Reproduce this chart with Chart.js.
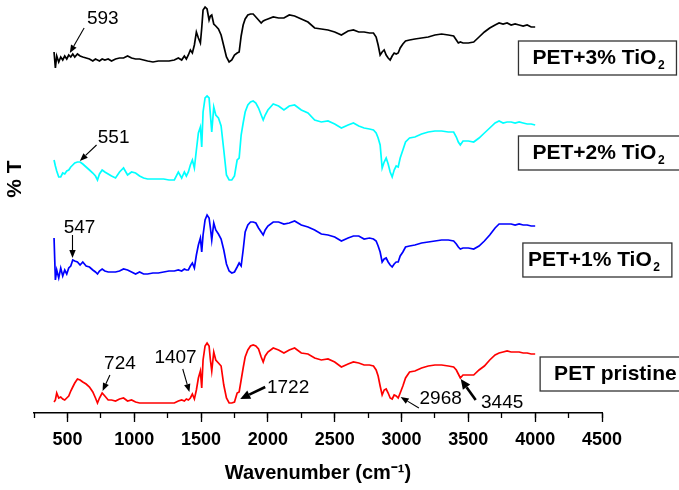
<!DOCTYPE html>
<html>
<head>
<meta charset="utf-8">
<script src="https://cdn.jsdelivr.net/npm/chart.js@4.4.1/dist/chart.umd.min.js"></script>
<style>
  body { margin: 0; background: #fff; }
  #wrap { width: 679px; height: 490px; }
</style>
</head>
<body>
<div id="wrap"><canvas id="ftir"></canvas></div>
<script>
// wavenumber grid (cm-1) shared by the four spectra
const wavenumbers = [400,410,420,435,450,465,480,495,510,525,540,555,
  575,595,615,640,665,690,710,725,740,760,780,805,830,860,890,920,950,980,1010,1040,1070,1100,1140,1180,1220,1260,1300,
  1330,1355,1375,1390,1405,1420,1435,1450,1465,1480,1495,1505,1515,1530,1545,1560,1570,1580,1595,1610,1630,1650,1670,1690,1710,1730,1750,1770,1785,1800,1815,1830,1850,1870,1890,1910,1930,1950,1965,1980,2000,
  2040,2080,2120,2160,2200,2250,2300,2350,2400,2450,2500,2550,2600,2640,2680,2720,2760,2790,
  2810,2825,2840,2855,2870,2885,2900,2915,2930,2945,2960,2975,2990,3010,3030,3060,3100,3150,3200,3250,3300,3350,3390,
  3410,3425,3440,3460,3500,3540,3580,3620,3660,3700,3730,3760,3790,3820,3850,3880,3910,3940,3970,4000];

// %T, stacked with offsets (arbitrary units)
const tio2_3 = [361,345,357,351,356,353,357,354,358,356,359,356,
  359,357,356,355,354,352,354,353,352,354,353,354,352,354,355,355,357,355,354,354,353,352,351,352,352,352,353,
  355,353,357,354,358,363,360,368,381,375,370,385,403,406,404,393,397,398,389,387,384,378,367,356,351,353,358,360,361,377,388,394,398,399,399,396,393,390,392,393,394,
  396,395,395,398,397,394,391,385,384,383,381,378,382,383,381,381,380,380,
  376,368,358,361,363,358,355,353,357,360,359,360,365,369,372,373,374,375,376,378,379,378,377,
  373,370,371,370,370,371,376,381,385,388,390,389,390,388,389,388,387,388,386,386];

const tio2_2 = [253,247,242,236,236,240,239,242,243,246,248,250,
  251,251,249,246,243,240,237,233,239,243,241,239,237,235,241,245,238,241,240,237,235,234,234,234,234,233,233,
  241,235,241,237,241,248,253,245,263,280,286,266,301,315,317,315,298,281,306,298,295,287,263,238,233,233,237,253,255,278,290,301,308,311,312,310,305,298,293,298,303,
  309,307,303,307,308,303,300,293,291,292,289,285,288,290,287,285,284,283,
  280,275,268,245,251,255,249,241,236,243,247,246,255,263,271,275,276,279,281,282,282,281,281,
  276,271,268,272,272,271,275,280,285,290,292,290,291,291,290,291,290,289,289,288];

const tio2_1 = [175,133,143,135,145,137,143,139,145,147,153,152,
  151,148,151,147,146,143,141,139,142,144,142,141,141,141,142,144,143,141,139,141,139,139,140,140,141,142,142,
  143,142,144,143,143,147,150,145,158,168,175,161,178,193,198,195,185,173,190,183,179,174,163,149,142,140,141,146,150,147,163,181,188,191,191,190,185,181,178,183,187,
  191,191,189,190,192,188,186,183,179,178,176,172,175,177,177,174,175,174,
  172,167,161,151,154,155,151,148,146,149,151,151,157,161,166,167,168,170,171,172,173,173,172,
  169,166,164,165,165,164,167,172,178,185,189,189,189,189,188,189,188,188,187,187];

const pristine = [11,13,20,15,16,14,13,15,17,22,26,30,
  34,33,31,29,26,21,15,10,15,20,17,13,13,12,14,15,12,13,11,10,10,10,10,10,10,10,10,
  12,13,12,14,13,15,19,14,23,35,42,25,53,67,70,67,53,42,61,53,50,47,28,15,10,10,11,20,21,33,45,56,63,67,68,67,64,56,51,57,61,
  65,63,60,63,65,60,59,55,53,54,51,46,49,51,50,48,48,47,
  43,37,27,18,23,24,20,15,14,18,17,15,20,27,35,41,42,45,47,48,48,47,46,
  43,39,35,38,38,38,43,47,53,58,60,61,62,61,61,61,60,60,59,59];

const seriesValues = [tio2_3, tio2_2, tio2_1, pristine];
const sampleNames = ["PET+3% TiO", "PET+2% TiO", "PET+1% TiO", "PET pristine"];
const sampleSubs = ["2", "2", "2", ""];
const lineColors = ["#000000", "#00ffff", "#0000ff", "#ff0000"];

// peak labels: text position, arrow start, arrow tip (wavenumber, %T)
const peakLabels = ["593", "551", "547", "724", "1407", "1722", "2968", "3445"];
const peakTextAt = [[765, 395.5], [846, 277], [591, 187], [893, 51], [1309, 57], [2151, 27], [3293, 15.5], [3753, 12]];
const arrowFrom = [[625, 385], [718, 268], [538, 178], [818, 38], [1363, 44], [1980, 26], [3130, 5], [3555, 13]];
const arrowTo = [[518, 360], [593, 252], [538, 155], [763, 22], [1413, 21], [1793, 14], [2993, 16], [3443, 34]];
const arrowBold = [false, false, false, false, false, true, false, true];

// sample name boxes: left edge (wavenumber), top (%T)
const boxLeft = [3875, 3875, 3908, 4037];
const boxTop = [372, 277, 170, 56];

const FONT = '"Liberation Sans", Arial, Helvetica, sans-serif';
Chart.defaults.font.family = FONT;
Chart.defaults.color = "#000";

const labelPlugin = {
  id: "ftirLabels",
  afterDraw(chart) {
    const { ctx, scales: { x, y }, chartArea } = chart;
    ctx.save();
    ctx.fillStyle = "#000";
    ctx.strokeStyle = "#000";

    // arrows + numbers
    peakLabels.forEach((txt, i) => {
      const x1 = x.getPixelForValue(arrowFrom[i][0]), y1 = y.getPixelForValue(arrowFrom[i][1]);
      const x2 = x.getPixelForValue(arrowTo[i][0]), y2 = y.getPixelForValue(arrowTo[i][1]);
      const a = Math.atan2(y2 - y1, x2 - x1);
      const hl = arrowBold[i] ? 10 : 8, hw = arrowBold[i] ? 4.5 : 3.2;
      ctx.lineWidth = arrowBold[i] ? 2.6 : 1.1;
      ctx.beginPath();
      ctx.moveTo(x1, y1);
      ctx.lineTo(x2 - hl * Math.cos(a), y2 - hl * Math.sin(a));
      ctx.stroke();
      ctx.beginPath();
      ctx.moveTo(x2, y2);
      ctx.lineTo(x2 - hl * Math.cos(a) + hw * Math.sin(a), y2 - hl * Math.sin(a) - hw * Math.cos(a));
      ctx.lineTo(x2 - hl * Math.cos(a) - hw * Math.sin(a), y2 - hl * Math.sin(a) + hw * Math.cos(a));
      ctx.closePath();
      ctx.fill();

      ctx.font = "19px " + FONT;
      ctx.textAlign = "center";
      ctx.textBaseline = "alphabetic";
      ctx.fillText(txt, x.getPixelForValue(peakTextAt[i][0]), y.getPixelForValue(peakTextAt[i][1]) + 6.8);
    });

    // sample boxes
    const boxW = [158, 168, 149, 150], pad = [14, 14, 5, 14];
    sampleNames.forEach((name, i) => {
      const bx = x.getPixelForValue(boxLeft[i]), by = y.getPixelForValue(boxTop[i]);
      ctx.fillStyle = "#fff";
      ctx.fillRect(bx, by, boxW[i], 34);
      ctx.strokeStyle = "#333";
      ctx.lineWidth = 1.3;
      ctx.strokeRect(bx, by, boxW[i], 34);
      ctx.fillStyle = "#000";
      ctx.font = "bold 21px " + FONT;
      ctx.textAlign = "left";
      ctx.fillText(name, bx + pad[i], by + 22.5);
      if (sampleSubs[i]) {
        const w = ctx.measureText(name).width;
        ctx.font = "bold 12px " + FONT;
        ctx.fillText(sampleSubs[i], bx + pad[i] + w + 1.5, by + 27.5);
      }
    });

    // y axis title
    ctx.font = "bold 21px " + FONT;
    ctx.textAlign = "center";
    ctx.textBaseline = "middle";
    ctx.translate(chartArea.left - 19, y.getPixelForValue(234));
    ctx.rotate(-Math.PI / 2);
    ctx.fillText("% T", 0, 0);
    ctx.restore();
  }
};

new Chart(document.getElementById("ftir"), {
  type: "line",
  data: {
    datasets: seriesValues.map((vals, i) => ({
      label: sampleNames[i] + sampleSubs[i],
      data: wavenumbers.map((w, k) => ({ x: w, y: vals[k] })),
      borderColor: lineColors[i],
      borderWidth: 1.7,
      pointRadius: 0,
      fill: false,
      tension: 0,
    })),
  },
  options: {
    responsive: true,
    maintainAspectRatio: false,
    animation: false,
    layout: { padding: { left: 34, right: 77, top: 0, bottom: 0 } },
    plugins: {
      legend: { display: false },
      tooltip: { enabled: false },
    },
    scales: {
      // minor ticks every 250 (short), sits right on the axis line
      xMinor: {
        type: "linear",
        position: "bottom",
        weight: -1,
        min: 250,
        max: 4500,
        afterFit: (s) => { s.height = 0; },
        ticks: { stepSize: 250, autoSkip: false, callback: () => "" },
        grid: { drawOnChartArea: false, drawTicks: true, tickLength: 5, tickColor: "#000", tickWidth: 1.3 },
        border: { display: false },
      },
      x: {
        type: "linear",
        position: "bottom",
        weight: 0,
        min: 250,
        max: 4500,
        afterFit: (s) => { s.height = 77; },
        ticks: {
          stepSize: 250,
          autoSkip: false,
          maxRotation: 0,
          padding: 7,
          font: { size: 18, weight: "bold" },
          callback: (v) => (v % 500 === 0 && v >= 500 ? v : ""),
        },
        grid: {
          drawOnChartArea: false,
          drawTicks: true,
          tickLength: 9,
          tickWidth: 1.3,
          tickColor: (c) => (c.tick && c.tick.value % 500 === 0 ? "#000" : "rgba(0,0,0,0)"),
        },
        border: { display: true, color: "#000", width: 1.4 },
        title: {
          display: true,
          text: "Wavenumber (cm⁻¹)",
          font: { size: 20, weight: "bold" },
          padding: { top: 0, bottom: 5 },
        },
      },
      y: {
        display: false,
        min: 0,
        max: 413,
      },
    },
  },
  plugins: [labelPlugin],
});
</script>
</body>
</html>
